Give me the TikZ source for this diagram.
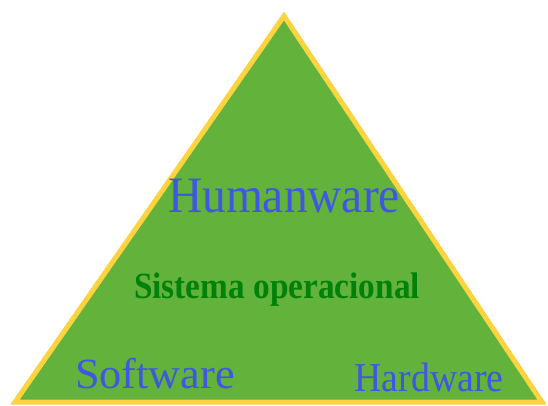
\documentclass[tikz,border=0pt]{standalone}
\usepackage{fontspec}
\setmainfont{Liberation Serif}
\definecolor{piramide}{RGB}{98,178,59}
\definecolor{borda}{RGB}{253,211,63}
\definecolor{azul}{RGB}{62,88,228}
\definecolor{verdeescuro}{RGB}{0,130,10}
\tikzset{camada/.style={text=azul,inner sep=0pt}}

\begin{document}
\begin{tikzpicture}[x=1pt,y=-1pt]
\useasboundingbox (0,0) rectangle (548,405);
\coordinate (topo) at (284,16);
\coordinate (esq) at (15,402);
\coordinate (dir) at (542,402);
\draw[borda,fill=piramide,line width=5pt,line join=miter] (topo) -- (esq) -- (dir) -- cycle;
\node[camada,font=\fontsize{51}{51}\selectfont,xscale=0.93] (human) at (284,196) {Humanware};
\node[inner sep=0pt,text=verdeescuro,font=\bfseries\fontsize{37}{37}\selectfont,xscale=0.9] (so) at (277,290) {Sistema operacional};
\node[camada,font=\fontsize{43}{43}\selectfont,xscale=1.03] (soft) at (155,374) {Software};
\node[camada,font=\fontsize{41}{41}\selectfont,xscale=0.92] (hard) at (429,377) {Hardware};
\end{tikzpicture}
\end{document}
